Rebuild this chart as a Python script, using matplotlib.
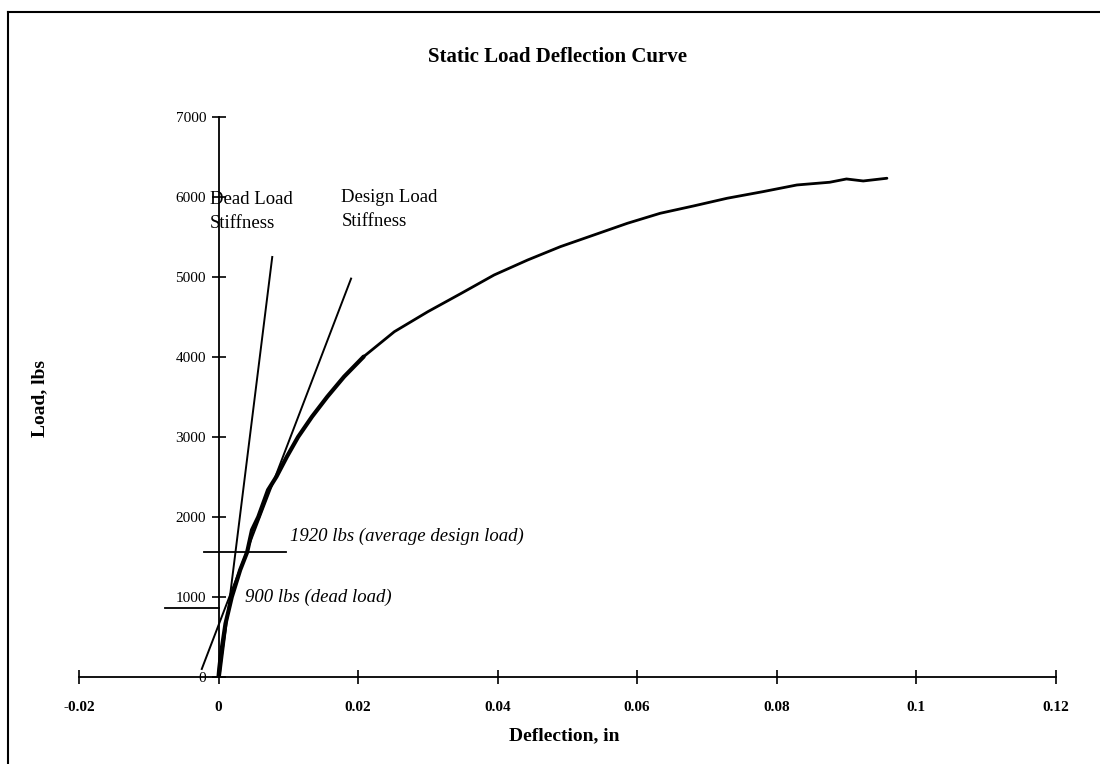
import matplotlib.pyplot as plt
from matplotlib.lines import Line2D

plt.rcParams['font.family'] = ['Liberation Serif', 'DejaVu Serif']

deflection = [0.0000, 0.0001, 0.0003, 0.0005, 0.0010, 0.0019, 0.0031, 0.0041,
              0.0048, 0.0057, 0.0071, 0.0083, 0.0098, 0.0114, 0.0134, 0.0156,
              0.0180, 0.0208, 0.0252, 0.0300, 0.0348, 0.0395, 0.0443, 0.0490,
              0.0538, 0.0586, 0.0633, 0.0681, 0.0729, 0.0780, 0.0829, 0.0876,
              0.0900, 0.0924, 0.0958]
load = [0, 100, 250, 375, 667, 1000, 1337, 1560,
        1837, 2000, 2337, 2504, 2754, 3000, 3254, 3504,
        3754, 4004, 4316, 4566, 4796, 5025, 5212, 5379,
        5525, 5671, 5796, 5888, 5984, 6066, 6150, 6184,
        6225, 6200, 6234]

# stiffness lines
dead_x = [0.0002, 0.0077]
dead_y = [0, 5250]
design_x = [-0.0024, 0.019]
design_y = [100, 4980]

# load level markers
design_load_y = 1565
design_load_x = [-0.0021, 0.0097]
dead_load_y = 862
dead_load_x = [-0.0076, 0.0]

xticks = [-0.02, 0, 0.02, 0.04, 0.06, 0.08, 0.1, 0.12]
xlabels = ['-0.02', '0', '0.02', '0.04', '0.06', '0.08', '0.1', '0.12']
yticks = [0, 1000, 2000, 3000, 4000, 5000, 6000, 7000]

fig = plt.figure(figsize=(11, 7.64), dpi=100)
ax = fig.add_axes([0.0718, 0.1139, 0.888, 0.733])

n_low = 18
ax.plot(deflection[:n_low], load[:n_low], color='black', lw=3.0, solid_capstyle='round')
ax.plot(deflection[n_low - 1:], load[n_low - 1:], color='black', lw=2.0, solid_capstyle='round')
ax.plot(dead_x, dead_y, color='black', lw=1.4)
ax.plot(design_x, design_y, color='black', lw=1.4)
ax.plot(design_load_x, [design_load_y] * 2, color='black', lw=1.3)
ax.plot(dead_load_x, [dead_load_y] * 2, color='black', lw=1.3)

ax.set_xlim(-0.02, 0.12)
ax.set_ylim(0, 7000)
ax.spines['top'].set_visible(False)
ax.spines['right'].set_visible(False)
ax.spines['left'].set_position(('data', 0))
ax.spines['left'].set_linewidth(1.3)
ax.spines['bottom'].set_linewidth(1.3)

ax.set_xticks(xticks)
ax.set_xticklabels(xlabels, fontweight='bold', fontsize=11)
ax.set_yticks(yticks)
ax.set_yticklabels([str(v) for v in yticks], fontsize=11)
ax.tick_params(axis='x', direction='inout', length=10, width=1.2, pad=12)
ax.tick_params(axis='y', direction='inout', length=10, width=1.2, pad=4)

txt = dict(fontsize=13.5, fontstyle='italic', va='center', ha='left')
ax.text(0.0103, 1762, '1920 lbs (average design load)', **txt)
ax.text(0.0038, 996, '900 lbs (dead load)', **txt)
ax.text(-0.0012, 5820, 'Dead Load\nStiffness', fontsize=13.5, va='center',
        ha='left', linespacing=1.55)
ax.text(0.0176, 5840, 'Design Load\nStiffness', fontsize=13.5, va='center',
        ha='left', linespacing=1.55)

fig.text(0.507, 0.925, 'Static Load Deflection Curve', fontsize=15,
         fontweight='bold', ha='center', va='center')
fig.text(0.513, 0.037, 'Deflection, in', fontsize=14, fontweight='bold',
         ha='center', va='center')
fig.text(0.036, 0.479, 'Load, lbs', fontsize=14, fontweight='bold',
         ha='center', va='center', rotation=90)

# page frame
fig.add_artist(Line2D([0.007, 1.0], [0.984, 0.984], color='black', lw=1.5,
                      transform=fig.transFigure))
fig.add_artist(Line2D([0.007, 0.007], [0.0, 0.984], color='black', lw=1.5,
                      transform=fig.transFigure))

fig.savefig('out.png', dpi=100)
